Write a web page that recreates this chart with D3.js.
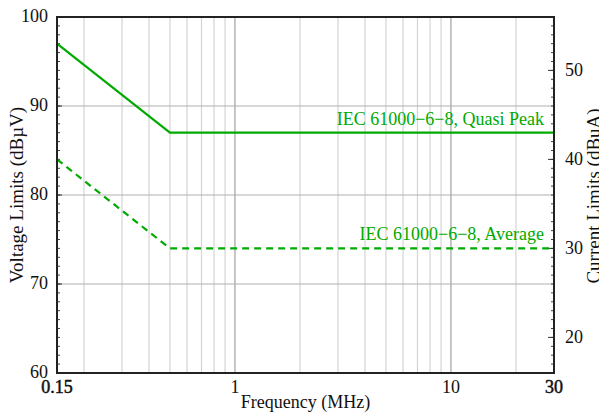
<!DOCTYPE html>
<html><head><meta charset="utf-8">
<script src="https://cdn.jsdelivr.net/npm/d3@7"></script>
<style>body{margin:0;background:#fff;overflow:hidden}svg{display:block}text{font-family:"Liberation Serif","DejaVu Serif",serif}</style>
</head><body>
<script>
const freqQP = [0.15, 0.5, 30];
const valQP = [97, 87, 87];
const freqAV = [0.15, 0.5, 30];
const valAV = [84, 74, 74];
const xTicks = [0.15, 1, 10, 30];
const xBoldTicks = [0.15, 30];
const xMinorGrid = [0.2,0.3,0.4,0.5,0.6,0.7,0.8,0.9,2,3,4,5,6,7,8,9,20];
const xMajorGrid = [1, 10];
const yTicks = [60, 70, 80, 90, 100];
const yRightTicks = [20, 30, 40, 50];
const currentOffset = 44;
const labelQP = "IEC 61000\u22126\u22128, Quasi Peak";
const labelAV = "IEC 61000\u22126\u22128, Average";

const W = 599, H = 414;
const m = {l:57, r:45, t:17, b:41};
const svg = d3.select("body").append("svg").attr("width", W).attr("height", H);
const x = d3.scaleLog().domain([0.15, 30]).range([m.l, W - m.r]);
const y = d3.scaleLinear().domain([60, 100]).range([H - m.b, m.t]);
const y2 = d3.scaleLinear().domain([60 - currentOffset, 100 - currentOffset]).range([H - m.b, m.t]);

const g = svg.append("g");
g.selectAll(".vmin").data(xMinorGrid).join("line")
  .attr("x1", d => x(d)).attr("x2", d => x(d)).attr("y1", m.t).attr("y2", H - m.b)
  .attr("stroke", "#d4d4d4").attr("stroke-width", 1.2);
g.selectAll(".vmaj").data(xMajorGrid).join("line")
  .attr("x1", d => x(d)).attr("x2", d => x(d)).attr("y1", m.t).attr("y2", H - m.b)
  .attr("stroke", "#a0a0a0").attr("stroke-width", 1.2);
g.selectAll(".hmaj").data(yTicks.slice(1, -1)).join("line")
  .attr("x1", m.l).attr("x2", W - m.r).attr("y1", d => y(d)).attr("y2", d => y(d))
  .attr("stroke", "#b0b0b0").attr("stroke-width", 1.2);

const lMinor = d3.range(61, 100);
g.selectAll(".lt").data(lMinor).join("line")
  .attr("x1", m.l).attr("x2", m.l + 3).attr("y1", d => y(d)).attr("y2", d => y(d))
  .attr("stroke", "#444").attr("stroke-width", 1);
g.selectAll(".ltM").data(yTicks).join("line")
  .attr("x1", m.l).attr("x2", m.l + 5).attr("y1", d => y(d)).attr("y2", d => y(d))
  .attr("stroke", "#333").attr("stroke-width", 1);
const rMinor = d3.range(17, 56);
g.selectAll(".rt").data(rMinor).join("line")
  .attr("x1", W - m.r).attr("x2", W - m.r - 3).attr("y1", d => y2(d)).attr("y2", d => y2(d))
  .attr("stroke", "#444").attr("stroke-width", 1);
g.selectAll(".rtM").data(yRightTicks).join("line")
  .attr("x1", W - m.r).attr("x2", W - m.r - 6).attr("y1", d => y2(d)).attr("y2", d => y2(d))
  .attr("stroke", "#333").attr("stroke-width", 1);

const line = d3.line().x(d => x(d[0])).y(d => y(d[1]));
const green = "#00aa00";
svg.append("path").datum(freqQP.map((f, i) => [f, valQP[i]])).attr("d", line)
  .attr("fill", "none").attr("stroke", green).attr("stroke-width", 2.2);
svg.append("path").datum(freqAV.map((f, i) => [f, valAV[i]])).attr("d", line)
  .attr("fill", "none").attr("stroke", green).attr("stroke-width", 2.2)
  .attr("stroke-dasharray", "7,5");

svg.append("text").attr("x", W - m.r - 10).attr("y", y(87) - 8).attr("text-anchor", "end")
  .attr("font-size", 18).attr("fill", green).text(labelQP);
svg.append("text").attr("x", W - m.r - 10).attr("y", y(74) - 8).attr("text-anchor", "end")
  .attr("font-size", 18).attr("fill", green).text(labelAV);

svg.append("rect").attr("x", m.l).attr("y", m.t).attr("width", W - m.l - m.r).attr("height", H - m.t - m.b)
  .attr("fill", "none").attr("stroke", "#222").attr("stroke-width", 2);

svg.selectAll(".xl").data(xTicks).join("text")
  .attr("x", d => x(d)).attr("y", H - m.b + 20).attr("text-anchor", "middle")
  .attr("font-size", 18).attr("fill", "#111")
  .attr("stroke", d => xBoldTicks.includes(d) ? "#111" : "none").attr("stroke-width", 0.5)
  .text(d => d);
svg.selectAll(".yl").data(yTicks).join("text")
  .attr("x", m.l - 9).attr("y", d => y(d) + 5).attr("text-anchor", "end")
  .attr("font-size", 18).attr("fill", "#111").text(d => d);
svg.selectAll(".y2l").data(yRightTicks).join("text")
  .attr("x", W - m.r + 11).attr("y", d => y2(d) + 6).attr("text-anchor", "start")
  .attr("font-size", 18).attr("fill", "#111").text(d => d);

svg.append("text").attr("x", (m.l + W - m.r) / 2).attr("y", H - 6).attr("text-anchor", "middle")
  .attr("font-size", 18).attr("fill", "#111").text("Frequency (MHz)");
svg.append("text").attr("transform", `translate(23,195) rotate(-90)`)
  .attr("text-anchor", "middle").attr("font-size", 19).attr("fill", "#111").text("Voltage Limits (dB\u00b5V)");
svg.append("text").attr("transform", `translate(600,196) rotate(-90)`)
  .attr("text-anchor", "middle").attr("font-size", 19).attr("fill", "#111").text("Current Limits (dBuA)");
</script>
</body></html>
